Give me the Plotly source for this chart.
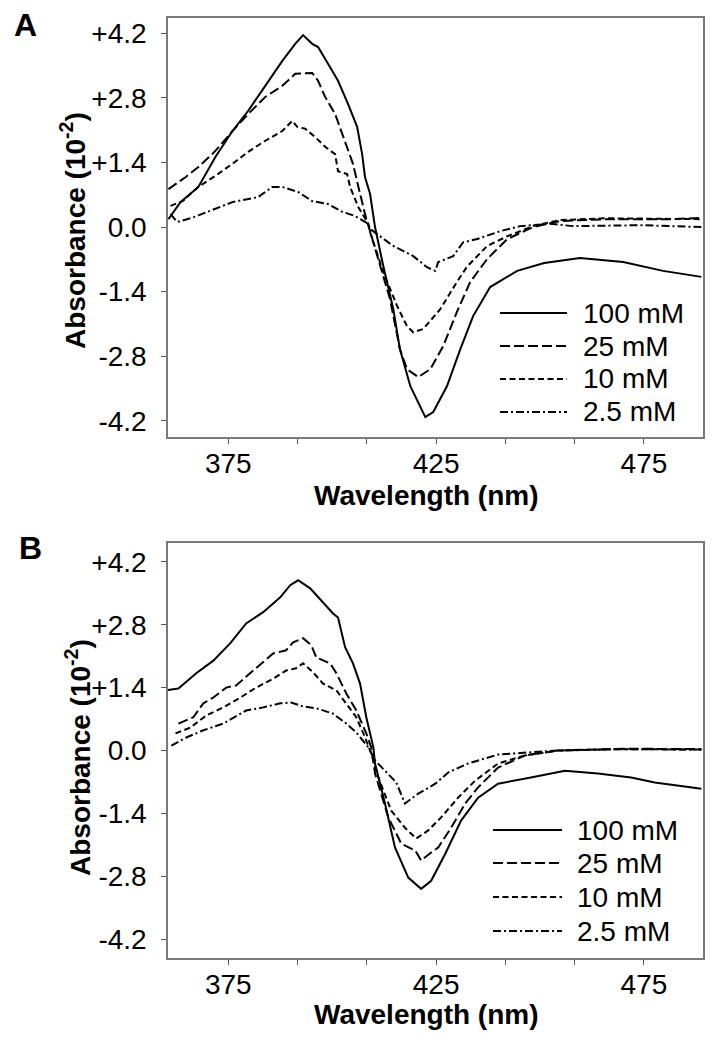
import plotly.graph_objects as go

# ---------------- Panel A data (wavelength nm, absorbance x10^-2) ----------------
a100_x = [360.6, 363.5, 367.8, 371.9, 376.0, 379.8, 383.9, 388.0, 391.1, 393.0, 395.2, 396.6, 399.0,
          401.4, 403.8, 406.0, 407.2, 407.9, 409.1, 410.3, 412.3, 414.7, 416.3, 418.8, 422.4, 424.3,
          427.6, 430.8, 433.9, 438.0, 444.5, 451.0, 459.6, 470.0, 479.6, 488.8]
a100_y = [0.17, 0.54, 0.87, 1.52, 2.08, 2.52, 3.06, 3.60, 3.97, 4.16, 3.97, 3.90, 3.54,
          3.17, 2.67, 2.17, 1.58, 1.08, 0.72, 0.00, -0.85, -1.78, -2.65, -3.45, -4.12, -4.01,
          -3.45, -2.65, -1.93, -1.30, -0.95, -0.78, -0.67, -0.76, -0.95, -1.08]

a25_x = [360.6, 364.7, 367.8, 371.9, 376.0, 379.8, 383.9, 388.0, 391.1, 395.2, 396.6, 398.3, 400.7,
         403.1, 405.0, 406.3, 407.9, 409.1, 411.5, 413.9, 416.3, 418.0, 420.7, 423.6, 426.7, 430.0,
         433.2, 437.3, 442.1, 448.3, 454.8, 466.1, 482.0, 488.8]
a25_y = [0.82, 1.08, 1.30, 1.65, 2.08, 2.45, 2.82, 3.06, 3.32, 3.34, 3.17, 2.82, 2.45,
         1.87, 1.37, 0.87, 0.28, -0.09, -0.85, -1.56, -2.65, -3.08, -3.25, -3.08, -2.58, -1.84,
         -1.19, -0.69, -0.26, 0.00, 0.13, 0.17, 0.17, 0.20]

a10_x = [361.1, 364.0, 367.8, 371.9, 376.0, 379.8, 383.9, 388.0, 390.4, 391.6, 393.5, 395.9, 398.3,
         400.7, 401.4, 403.6, 404.3, 406.3, 408.7, 409.1, 412.3, 415.6, 418.0, 419.5, 421.9, 426.0,
         430.0, 432.5, 437.3, 442.1, 448.3, 454.8, 466.0, 480.0, 488.8]
a10_y = [0.46, 0.56, 0.87, 1.11, 1.37, 1.63, 1.87, 2.08, 2.30, 2.17, 2.13, 1.95, 1.74,
         1.58, 1.21, 1.15, 0.87, 0.43, 0.07, -0.11, -0.98, -1.71, -2.15, -2.28, -2.21, -1.78,
         -1.19, -0.85, -0.41, -0.20, 0.02, 0.15, 0.19, 0.18, 0.17]

a2_x = [361.1, 362.7, 366.3, 371.9, 376.0, 382.2, 385.6, 388.0, 391.8, 395.2, 399.0, 402.4, 405.5,
        408.7, 409.1, 414.7, 419.5, 422.8, 424.8, 425.5, 429.1, 431.5, 434.9, 440.4, 445.2, 452.4,
        457.9, 474.0, 488.8]
a2_y = [0.28, 0.11, 0.20, 0.39, 0.54, 0.65, 0.87, 0.87, 0.76, 0.56, 0.50, 0.33, 0.24,
        0.07, -0.04, -0.41, -0.63, -0.87, -0.95, -0.76, -0.63, -0.33, -0.26, -0.09, 0.02, 0.07,
        0.02, 0.04, 0.00]

# ---------------- Panel B data ----------------
b100_x = [360.0, 363.0, 367.3, 371.4, 375.5, 379.3, 383.4, 387.5, 389.9, 391.8, 394.7, 397.8, 400.2,
          401.4, 403.1, 405.0, 406.7, 408.2, 409.9, 410.3, 412.7, 415.1, 418.3, 421.4, 423.8, 427.2,
          431.0, 435.1, 439.9, 447.8, 456.0, 463.9, 471.9, 477.6, 488.8]
b100_y = [1.34, 1.38, 1.72, 2.00, 2.39, 2.83, 3.08, 3.41, 3.68, 3.79, 3.61, 3.30, 3.05,
          2.96, 2.30, 1.94, 1.49, 0.74, 0.07, -0.29, -1.18, -2.16, -2.83, -3.08, -2.90, -2.30,
          -1.56, -1.05, -0.74, -0.60, -0.45, -0.51, -0.60, -0.71, -0.85]

b25_x = [363.0, 366.6, 369.0, 371.4, 374.5, 376.9, 381.0, 385.8, 388.9, 390.6, 393.0, 395.0, 396.2,
         399.5, 401.0, 403.4, 405.8, 408.2, 409.4, 410.3, 413.5, 416.6, 420.0, 421.4, 423.8, 425.5,
         428.6, 432.0, 435.1, 439.9, 446.4, 454.3, 470.0, 488.8]
b25_y = [0.60, 0.74, 1.05, 1.18, 1.40, 1.45, 1.78, 2.16, 2.23, 2.41, 2.50, 2.34, 2.07,
         1.94, 1.72, 1.27, 0.89, 0.38, 0.07, -0.51, -1.49, -2.07, -2.23, -2.45, -2.27, -2.16,
         -1.72, -1.18, -0.82, -0.38, -0.11, 0.00, 0.04, 0.03]

b10_x = [362.3, 365.9, 369.7, 373.8, 377.9, 381.7, 385.8, 388.9, 391.3, 393.0, 395.4, 397.8, 401.0,
         403.4, 405.8, 407.9, 409.4, 411.1, 414.2, 417.5, 420.2, 423.1, 426.2, 430.3, 434.4, 439.9,
         446.4, 454.3, 470.0, 488.8]
b10_y = [0.38, 0.51, 0.78, 0.96, 1.18, 1.40, 1.60, 1.78, 1.83, 1.94, 1.74, 1.49, 1.34,
         1.05, 0.74, 0.29, -0.07, -0.60, -1.34, -1.72, -1.96, -1.78, -1.49, -1.05, -0.67, -0.29,
         -0.11, 0.00, 0.03, 0.02]

b2_x = [361.3, 364.9, 369.0, 373.8, 379.3, 383.4, 387.5, 390.1, 393.0, 396.2, 400.2, 403.4, 405.8,
        407.5, 408.7, 410.3, 412.7, 415.4, 417.5, 420.7, 424.8, 427.9, 432.7, 439.9, 447.8, 454.3,
        470.0, 488.8]
b2_y = [0.11, 0.29, 0.45, 0.60, 0.89, 0.96, 1.05, 1.07, 0.98, 0.94, 0.82, 0.60, 0.40,
        0.22, 0.07, -0.22, -0.45, -0.71, -1.18, -0.96, -0.74, -0.49, -0.29, -0.09, -0.04, 0.00,
        0.03, 0.02]

labels = ["100 mM", "25 mM", "10 mM", "2.5 mM"]
y_tickvals = [4.2, 2.8, 1.4, 0.0, -1.4, -2.8, -4.2]
y_ticktext = ["+4.2", "+2.8", "+1.4", "0.0", "-1.4", "-2.8", "-4.2"]
x_tickvals = [375, 425, 475]
x_minor_step = 50 / 3

FONT = "Liberation Sans, Arial, sans-serif"
dashes = ["solid", "10px,4px", "6px,3.5px", "8px,3px,2px,3px"]

# page is offset by the 8px body margin; work in reference-pixel coordinates
W, H = 710, 1029
OFF = 8


def px(x):
    return (x - OFF) / W


def py(y):
    return 1 - (y - OFF) / H


fig = go.Figure()

panelA = [(a100_x, a100_y), (a25_x, a25_y), (a10_x, a10_y), (a2_x, a2_y)]
panelB = [(b100_x, b100_y), (b25_x, b25_y), (b10_x, b10_y), (b2_x, b2_y)]

for (xs, ys), lab, d in zip(panelA, labels, dashes):
    fig.add_trace(go.Scatter(x=xs, y=ys, mode="lines", name=lab, xaxis="x", yaxis="y",
                             line=dict(color="black", width=2, dash=d), showlegend=False))
for (xs, ys), lab, d in zip(panelB, labels, dashes):
    fig.add_trace(go.Scatter(x=xs, y=ys, mode="lines", name=lab, xaxis="x2", yaxis="y2",
                             line=dict(color="black", width=2, dash=d), showlegend=False))

xdom = [px(168), px(703)]
yA = [py(437), py(18)]
yB = [py(958), py(543)]

axis_common = dict(showgrid=False, zeroline=False, showline=True, mirror=True,
                   linecolor="#7a7a7a", linewidth=1.5, ticks="outside", ticklen=5,
                   tickcolor="#555", tickwidth=1.2,
                   tickfont=dict(family=FONT, size=28, color="black"))
x_minor = dict(ticks="outside", ticklen=5, tickcolor="#555", tickwidth=1.2,
               tick0=375, dtick=x_minor_step, showgrid=False)

xrange_ = [360.5, 489.2]
fig.update_layout(
    width=W, height=H,
    margin=dict(l=0, r=0, t=0, b=0),
    paper_bgcolor="white", plot_bgcolor="white",
    font=dict(family=FONT, color="black"),
    xaxis=dict(domain=xdom, anchor="y", range=xrange_, tickvals=x_tickvals, minor=x_minor,
               ticklabelstandoff=-4, **axis_common),
    yaxis=dict(domain=yA, anchor="x", range=[-4.55, 4.53], tickvals=y_tickvals, ticktext=y_ticktext,
               ticklabelstandoff=9, **axis_common),
    xaxis2=dict(domain=xdom, anchor="y2", range=xrange_, tickvals=x_tickvals, minor=x_minor,
                ticklabelstandoff=-4, **axis_common),
    yaxis2=dict(domain=yB, anchor="x2", range=[-4.62, 4.62], tickvals=y_tickvals, ticktext=y_ticktext,
                ticklabelstandoff=9, **axis_common),
    showlegend=False,
)

# ---- manual legends (long line samples as in the reference) ----
legend_A = dict(x0=500, x1=567, xt=581, rows=[313, 346, 379, 412])
legend_B = dict(x0=493, x1=562, xt=575, rows=[830, 863, 897, 931])
shapes = []
annotations = []
for lg in (legend_A, legend_B):
    for lab, d, yy in zip(labels, dashes, lg["rows"]):
        shapes.append(dict(type="line", xref="paper", yref="paper",
                           x0=px(lg["x0"]), x1=px(lg["x1"]), y0=py(yy), y1=py(yy),
                           line=dict(color="black", width=2, dash=d)))
        annotations.append(dict(text=lab, x=px(lg["xt"]), y=py(yy), xref="paper", yref="paper",
                                xanchor="left", yanchor="middle", showarrow=False,
                                font=dict(family=FONT, size=28, color="black")))

title_font = dict(family=FONT, size=28, color="black")
centered = dict(xref="paper", yref="paper", showarrow=False, xanchor="center", yanchor="middle")
annotations += [
    dict(text="<b>A</b>", x=px(25), y=py(25), font=dict(family=FONT, size=32, color="black"), **centered),
    dict(text="<b>B</b>", x=px(30), y=py(548), font=dict(family=FONT, size=32, color="black"), **centered),
    dict(text="<b>Wavelength (nm)</b>", x=px(426), y=py(495), font=title_font, **centered),
    dict(text="<b>Wavelength (nm)</b>", x=px(426), y=py(1015), font=title_font, **centered),
    dict(text="<b>Absorbance (10<sup>-2</sup>)</b>", x=px(73), y=py(231), textangle=-90,
         font=title_font, **centered),
    dict(text="<b>Absorbance (10<sup>-2</sup>)</b>", x=px(78), y=py(758), textangle=-90,
         font=title_font, **centered),
]
fig.update_layout(shapes=shapes, annotations=annotations)

fig.write_html("out.html")
